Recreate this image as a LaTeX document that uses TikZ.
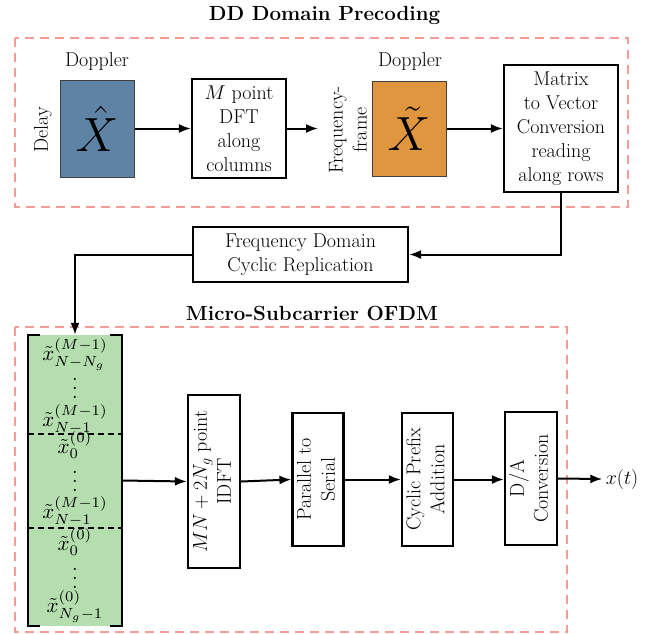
\RequirePackage{fix-cm}
\documentclass[tikz,border=0pt]{standalone}
\usepackage{graphicx}
\usetikzlibrary{arrows.meta,calc}
\definecolor{dashred}{HTML}{F49C95}
\definecolor{xblue}{HTML}{5F83A5}
\definecolor{xorange}{HTML}{E0963E}
\definecolor{xgreen}{HTML}{B4DEAE}
\newcommand{\bigvdots}{\scalebox{2}{\fontsize{10}{12}\selectfont\vbox{\baselineskip4.5pt\lineskiplimit0pt\hbox{.}\hbox{.}\hbox{.}}}}
\newcommand{\ent}[1]{\scalebox{2.1}{\fontsize{10}{12}\selectfont$#1$}}
\begin{document}
\begin{tikzpicture}[x=1pt,y=-1pt,
  every node/.style={font=\fontsize{20}{24}\selectfont},
  blockbox/.style={draw,line width=2.2pt,inner sep=0pt,align=center},
  fillbox/.style={draw=black!75,line width=1pt,inner sep=0pt},
  grp/.style={draw=dashred,line width=1.4pt,dash pattern=on 9pt off 6pt},
  conn/.style={line width=2pt,-{Latex[length=12pt,width=9pt]}},
  plainline/.style={line width=2pt},
  ttl/.style={font=\fontsize{20.5}{24}\selectfont\bfseries},
  entry/.style={anchor=base,inner sep=0pt},
  dotsn/.style={inner sep=0pt}]
\useasboundingbox (0,0) rectangle (659,633);
% groups
\draw[grp] (15,38) rectangle (628,207);
\draw[grp] (15,327) rectangle (567,632);
\node[ttl] (t1) at (324.5,15) {DD Domain Precoding};
\node[ttl] (t2) at (312,313) {Micro-Subcarrier OFDM};
% top row
\node[fillbox,fill=xblue,minimum width=74pt,minimum height=97pt] (xhat) at (97,128.5) {\fontsize{48}{50}\selectfont$\hat{X}$};
\node (dop1) at (97,62) {Doppler};
\node[rotate=90] (delay) at (43,130) {Delay};
\node[blockbox,minimum width=94pt,minimum height=99pt] (dft) at (239,128.5) {$M$ point\\DFT\\along\\columns};
\coordinate (dftend) at (318,128.5);
\node[rotate=90,align=center,inner sep=0pt] (ff) at (348,130) {Frequency-\\frame};
\node[fillbox,fill=xorange,minimum width=74pt,minimum height=95pt] (xtil) at (409,128.5) {\fontsize{48}{50}\selectfont$\tilde{X}$};
\node (dop2) at (410,62) {Doppler};
\node[blockbox,minimum width=114pt,minimum height=127pt] (mat) at (561,128.5) {Matrix\\to Vector\\Conversion\\reading\\along rows};
\node[blockbox,minimum width=215pt,minimum height=55pt] (freq) at (300.5,254.5) {Frequency Domain\\Cyclic Replication};
% green vector
\node[fill=xgreen,minimum width=94pt,minimum height=291pt,inner sep=0pt] (green) at (75,480.5) {};
\draw[plainline] (40,335) -- (28,335) -- (28,626) -- (40,626);
\draw[plainline] (110,335) -- (122,335) -- (122,626) -- (110,626);
\draw[line width=1.5pt,dash pattern=on 6pt off 4pt] (28,434) -- (122,434);
\draw[line width=1.5pt,dash pattern=on 6pt off 4pt] (28,528) -- (122,528);
\node[entry] (e1) at (75,360) {\ent{\tilde{x}^{(M-1)}_{N-N_g}}};
\node[dotsn] (d1) at (75,388) {\bigvdots};
\node[entry] (e2) at (75,426) {\ent{\tilde{x}^{(M-1)}_{N-1}}};
\node[entry] (e3) at (75,453) {\ent{\tilde{x}^{(0)}_{0}}};
\node[dotsn] (d2) at (75,481) {\bigvdots};
\node[entry] (e4) at (75,518) {\ent{\tilde{x}^{(M-1)}_{N-1}}};
\node[entry] (e5) at (75,550) {\ent{\tilde{x}^{(0)}_{0}}};
\node[dotsn] (d3) at (75,578) {\bigvdots};
\node[entry] (e6) at (75,612) {\ent{\tilde{x}^{(0)}_{N_g-1}}};
% bottom row
\node[blockbox,minimum width=52pt,minimum height=173pt] (idft) at (214,481.5) {\rotatebox{90}{\begin{tabular}{@{}c@{}}$MN+2N_g$ point\\ IDFT\end{tabular}}};
\node[blockbox,minimum width=51pt,minimum height=133pt] (p2s) at (318,479.5) {\rotatebox{90}{\begin{tabular}{@{}c@{}}Parallel to\\ Serial\end{tabular}}};
\node[blockbox,minimum width=51pt,minimum height=133pt] (cp) at (427.5,479.5) {\rotatebox{90}{\begin{tabular}{@{}c@{}}Cyclic Prefix\\ Addition\end{tabular}}};
\node[blockbox,minimum width=52pt,minimum height=133pt] (da) at (531,478.5) {\rotatebox{90}{\begin{tabular}{@{}c@{}}D/A\\ Conversion\end{tabular}}};
\node (xt) at (622,479) {$x(t)$};
% connectors
\draw[conn] (xhat) -- (dft);
\draw[conn] (dft.east) -- (dftend);
\draw[conn] (xtil) -- (mat);
\draw[conn] (mat.south) |- (freq.east);
\draw[conn] (freq.west) -| (green.north);
\draw[conn] (green.east) -- (idft.west);
\draw[conn] (idft.east) -- (p2s.west);
\draw[conn] (p2s) -- (cp);
\draw[conn] (cp.east) -- (da.west |- cp.east);
\draw[conn] (da.east) -- (xt.west);
\end{tikzpicture}
\end{document}
